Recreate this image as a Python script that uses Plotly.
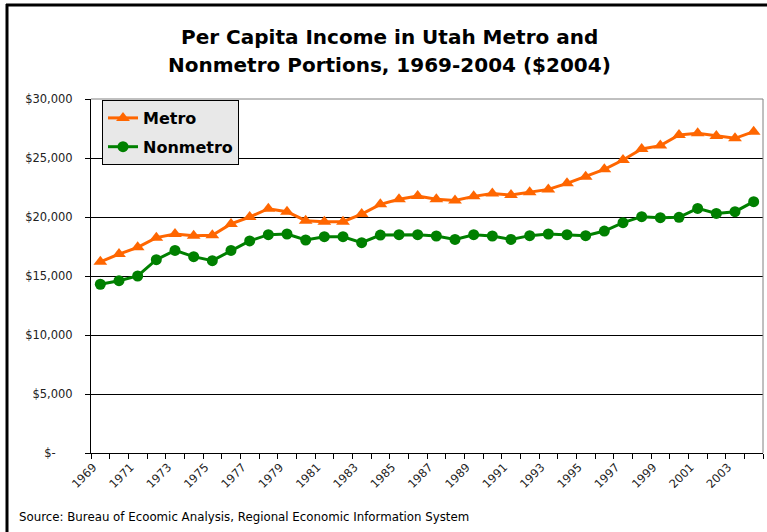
import plotly.graph_objects as go

years = [str(y) for y in range(1969, 2005)]
metro = [16200, 16860, 17430, 18250, 18560, 18420, 18450, 19410, 20000, 20700,
         20450, 19690, 19600, 19600, 20250, 21070, 21500, 21780, 21500, 21400,
         21750, 22000, 21860, 22100, 22340, 22850, 23420, 24040, 24830, 25760,
         26050, 26950, 27100, 26860, 26670, 27230]
nonmetro = [14300, 14600, 15000, 16380, 17170, 16640, 16300, 17170, 17970, 18500,
            18560, 18050, 18330, 18330, 17820, 18470, 18500, 18500, 18390, 18100,
            18500, 18390, 18100, 18420, 18560, 18500, 18420, 18810, 19520, 20030,
            19940, 19970, 20730, 20300, 20450, 21300]
y_ticks = [0, 5000, 10000, 15000, 20000, 25000, 30000]
y_labels = ["$-\u2007\u2007\u2009", "$5,000", "$10,000", "$15,000", "$20,000", "$25,000", "$30,000"]
x_labels = [y if i % 2 == 0 else "" for i, y in enumerate(years)]

title_line1 = "Per Capita Income in Utah Metro and"
title_line2 = "Nonmetro Portions, 1969-2004 ($2004)"
source_text = "Source: Bureau of Ecoomic Analysis, Regional Economic Information System"

fig = go.Figure()
fig.add_trace(go.Scatter(
    x=years, y=metro, name="Metro", mode="lines+markers", legendgroup="m",
    line=dict(color="#FF6600", width=3),
    marker=dict(symbol="triangle-up", size=12, color="#FF6600"),
))
fig.add_trace(go.Scatter(
    x=years, y=nonmetro, name="Nonmetro", mode="lines+markers", legendgroup="n",
    line=dict(color="#008000", width=3),
    marker=dict(symbol="circle", size=11, color="#008000"),
))

W, H = 767, 532
L, R, T, B = 91, 4, 99, 79
pw, ph = W - L - R, H - T - B

def px(x):
    return (x - L) / pw

def py(y):
    return (H - B - y) / ph

title_font = dict(family="DejaVu Sans", size=20, color="black", weight="bold")

fig.update_layout(
    width=W, height=H,
    margin=dict(l=L, r=R, t=T, b=B),
    paper_bgcolor="white", plot_bgcolor="white",
    font=dict(family="DejaVu Sans", color="black"),
    showlegend=True,
    legend=dict(x=px(102), y=py(100), xanchor="left", yanchor="top",
                bgcolor="#e8e8e8", bordercolor="black", borderwidth=1,
                font=dict(family="DejaVu Sans", size=16, color="black", weight="bold"),
                tracegroupgap=5, itemwidth=30),
    xaxis=dict(type="category", tickmode="array", tickvals=years, ticktext=x_labels,
               range=[-0.5, len(years) - 0.5], autorange=False,
               tickson="boundaries", tickangle=-45, ticks="outside", ticklen=5,
               ticklabelshift=-7, ticklabelstandoff=2,
               tickcolor="black", showline=True, linecolor="black", linewidth=1,
               showgrid=False, tickfont=dict(family="DejaVu Sans", size=11.5, color="#222")),
    yaxis=dict(range=[0, 30000], tickmode="array", tickvals=y_ticks, ticktext=y_labels,
               ticks="outside", ticklen=5, tickcolor="black", showline=True,
               linecolor="black", linewidth=1, showgrid=True, gridcolor="black",
               gridwidth=1, zeroline=False, ticklabelstandoff=10,
               tickfont=dict(family="DejaVu Sans", size=11.5, color="#222")),
    annotations=[
        dict(text=title_line1, xref="paper", yref="paper", x=px(389), y=py(37),
             xanchor="center", yanchor="middle", showarrow=False, font=title_font),
        dict(text=title_line2, xref="paper", yref="paper", x=px(389), y=py(65),
             xanchor="center", yanchor="middle", showarrow=False, font=title_font),
        dict(text=source_text, xref="paper", yref="paper", x=px(17), y=py(517),
             xanchor="left", yanchor="middle", showarrow=False,
             font=dict(family="DejaVu Sans", size=11.8, color="black")),
    ],
    shapes=[
        dict(type="line", xref="paper", yref="paper", x0=0, x1=1, y0=1, y1=1,
             line=dict(color="#808080", width=1)),
        dict(type="line", xref="paper", yref="paper", x0=1, x1=1, y0=0, y1=1,
             line=dict(color="#808080", width=1)),
        dict(type="line", xref="paper", yref="paper", x0=px(6), x1=px(770), y0=py(5), y1=py(5),
             line=dict(color="black", width=3)),
        dict(type="line", xref="paper", yref="paper", x0=px(7), x1=px(7), y0=py(4), y1=py(540),
             line=dict(color="black", width=3)),
    ],
)

fig.write_html("out.html", config={"displayModeBar": False},
               post_script="document.body.style.margin='0';")
